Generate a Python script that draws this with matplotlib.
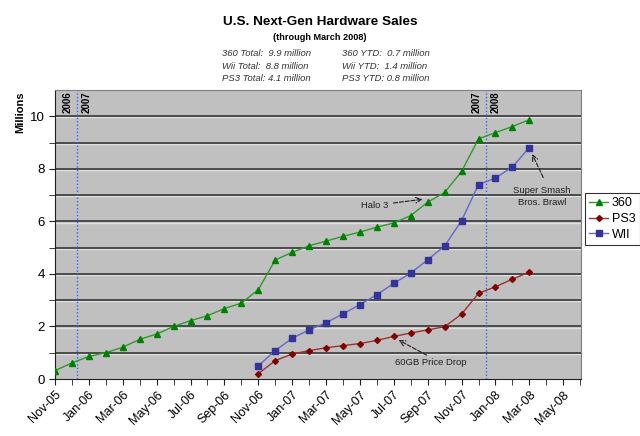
import matplotlib
matplotlib.use('Agg')

import numpy as np
import matplotlib.pyplot as plt
import matplotlib.transforms as mtransforms

plt.rcParams['font.family'] = ['Liberation Sans', 'DejaVu Sans']

# months from Nov-05 onwards (index 0 = Nov-05)
month_labels = ['Nov-05', 'Jan-06', 'Mar-06', 'May-06', 'Jul-06', 'Sep-06', 'Nov-06',
                'Jan-07', 'Mar-07', 'May-07', 'Jul-07', 'Sep-07', 'Nov-07',
                'Jan-08', 'Mar-08', 'May-08']

# cumulative sales, millions
x360_start = 0
x360 = [0.32, 0.61, 0.86, 1.0, 1.21, 1.51, 1.71, 2.0, 2.22, 2.41, 2.68, 2.89,
        3.40, 4.53, 4.82, 5.07, 5.25, 5.43, 5.59, 5.78, 5.94, 6.22, 6.73, 7.10,
        7.90, 9.14, 9.38, 9.61, 9.87]
ps3_start = 12
ps3 = [0.20, 0.70, 0.95, 1.08, 1.19, 1.27, 1.35, 1.47, 1.62, 1.75, 1.87, 1.99,
       2.47, 3.26, 3.51, 3.80, 4.07]
wii_start = 12
wii = [0.50, 1.08, 1.55, 1.87, 2.14, 2.48, 2.83, 3.21, 3.64, 4.03, 4.54, 5.06,
       6.03, 7.40, 7.65, 8.07, 8.81]

# year divider lines (month index) and their labels
dividers = [1.3, 25.45]
divider_labels = [('2006', '2007'), ('2007', '2008')]

fig = plt.figure(figsize=(6.4, 4.36), dpi=100)
ax = fig.add_axes([55/640, 1-379/436, 526/640, 289/436])
ax.set_facecolor('#C0C0C0')

# horizontal grid, dark line with a light edge under it
shift = mtransforms.ScaledTranslation(0, -1.2/100, fig.dpi_scale_trans)
for yv in range(1, 11):
    ax.plot([0, 1], [yv, yv], color='#E0E0E0', lw=1.0, zorder=1,
            transform=ax.get_yaxis_transform() + shift)
    ax.axhline(yv, color='#2a2a2a', lw=1.1, zorder=1)

ax.plot(np.arange(len(x360)) + x360_start, x360, color='#2E9A2E', lw=1.0,
        marker='^', ms=5, mfc='#008000', mec='#008000', label='360', zorder=3)
ax.plot(np.arange(len(ps3)) + ps3_start, ps3, color='#993333', lw=1.0,
        marker='D', ms=3, mfc='#800000', mec='#800000', label='PS3', zorder=3)
ax.plot(np.arange(len(wii)) + wii_start, wii, color='#6666CC', lw=1.0,
        marker='s', ms=4, mfc='#333399', mec='#333399', label='WII', zorder=3)

for xv, (l1, l2) in zip(dividers, divider_labels):
    ax.axvline(xv, color='#3366FF', lw=1.0, ls=(0, (1, 1.5)), zorder=2)
    ax.text(xv - 0.55, 10.95, l1, rotation=90, ha='center', va='top', fontsize=7, fontweight='bold')
    ax.text(xv + 0.55, 10.95, l2, rotation=90, ha='center', va='top', fontsize=7, fontweight='bold')

ax.set_xlim(0, 31.05)
ax.set_ylim(0, 11)
ax.set_xticks(np.arange(0, 31, 2))
ax.set_xticklabels(month_labels, rotation=45, ha='right', rotation_mode='anchor', fontsize=9)
ax.set_xticks(np.arange(0, 32, 1), minor=True)
ax.set_yticks(np.arange(0, 11, 2))
ax.set_yticks(np.arange(1, 11, 2), minor=True)
ax.tick_params(axis='both', which='both', direction='out', length=4, color='#202020')
ax.tick_params(axis='y', labelsize=9.5)
ax.tick_params(axis='x', pad=3)

for side in ['top', 'right']:
    ax.spines[side].set_color('#808080')
ax.spines['left'].set_color('#202020')
ax.spines['bottom'].set_color('#202020')

ax.set_ylabel('Millions', fontsize=8, fontweight='bold')
ax.yaxis.set_label_coords(-0.057, 0.922)

# annotations: label text plus dashed arrow
arrow_style = dict(arrowstyle='->', ls='--', color='#202020', lw=0.8, shrinkA=0, shrinkB=0)
ax.text(18.85, 6.62, 'Halo 3', fontsize=6.8, color='#202020', ha='center', va='center')
ax.annotate('', xy=(21.69, 6.84), xytext=(19.98, 6.7), arrowprops=arrow_style)
ax.text(28.76, 6.94, 'Super Smash\nBros. Brawl', fontsize=6.8, color='#202020',
        ha='center', va='center', linespacing=1.35)
ax.annotate('', xy=(28.17, 8.56), xytext=(28.82, 7.67), arrowprops=arrow_style)
ax.text(22.16, 0.635, '60GB Price Drop', fontsize=6.8, color='#202020', ha='center', va='center')
ax.annotate('', xy=(20.29, 1.48), xytext=(21.93, 0.91), arrowprops=arrow_style)

leg = fig.legend(loc='upper left', bbox_to_anchor=(585/640, 1-193/436), fontsize=9,
                 frameon=True, fancybox=False, edgecolor='black', borderpad=0.35,
                 handlelength=1.5, handletextpad=0.3, labelspacing=0.3, borderaxespad=0)
leg.get_frame().set_linewidth(0.8)

fig.text(0.5, 1-22/436, 'U.S. Next-Gen Hardware Sales', ha='center', va='center',
         fontsize=9.7, fontweight='bold')
fig.text(0.5, 1-37/436, '(through March 2008)', ha='center', va='center',
         fontsize=6.6, fontweight='bold')

left_stats = ['360 Total:  9.9 million', 'Wii Total:  8.8 million', 'PS3 Total: 4.1 million']
right_stats = ['360 YTD:  0.7 million', 'Wii YTD:  1.4 million', 'PS3 YTD: 0.8 million']
for i, (ls_, rs_) in enumerate(zip(left_stats, right_stats)):
    yy = 1 - (54 + i*12.2)/436
    fig.text(222/640, yy, ls_, ha='left', va='center', fontsize=6.8, style='italic', color='#333333')
    fig.text(342/640, yy, rs_, ha='left', va='center', fontsize=6.8, style='italic', color='#333333')

plt.savefig('out.png', dpi=100)
